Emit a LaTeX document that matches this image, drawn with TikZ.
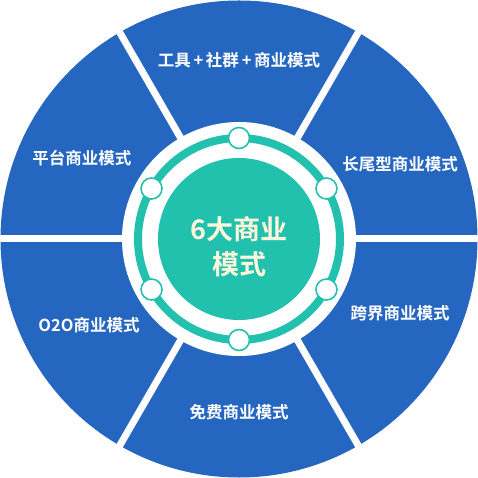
\documentclass[tikz,border=0pt]{standalone}
\usepackage{fontspec}
\newfontfamily\cjk{Noto Sans CJK SC Bold}
\definecolor{secblue}{HTML}{2566C0}
\definecolor{teal1}{HTML}{22C1AE}
\definecolor{cream}{HTML}{FFF6DC}
\begin{document}
\begin{tikzpicture}[x=1pt,y=1pt,
  seclabel/.style={text=white,font=\cjk\fontsize{16.5}{18}\selectfont,inner sep=0pt},
  dot/.style={circle,draw=teal1,line width=1.6pt,fill=white,minimum size=21pt,inner sep=0pt}]
\useasboundingbox (-239,-239) rectangle (239,239);
\fill[white] (-239,-239) rectangle (239,239);
\fill[secblue] (0,0) circle (238.5);
\foreach \a in {0,60,...,300}
  \draw[white,line width=7pt] (0,0) -- (\a:245);
\fill[white] (0,0) circle (117);
\draw[teal1,line width=8pt] (0,0) circle (101);
\fill[teal1] (0,0) circle (81);
\foreach \a/\n in {90/d1,30/d2,-30/d3,-90/d4,-150/d5,150/d6}
  \node[dot] (\n) at (\a:101) {};
\node[text=cream,font=\cjk\fontsize{27}{35}\selectfont,align=center,inner sep=0pt] (c) at (0,-8) {6大商业\\模式};
\node[seclabel] (t1) at (0,179) {工具\,+\,社群\,+\,商业模式};
\node[seclabel] (t2) at (161,75) {长尾型商业模式};
\node[seclabel] (t3) at (161,-74) {跨界商业模式};
\node[seclabel] (t4) at (0,-173) {免费商业模式};
\node[seclabel] (t5) at (-150,-86) {O2O商业模式};
\node[seclabel] (t6) at (-157,81) {平台商业模式};
\end{tikzpicture}
\end{document}
